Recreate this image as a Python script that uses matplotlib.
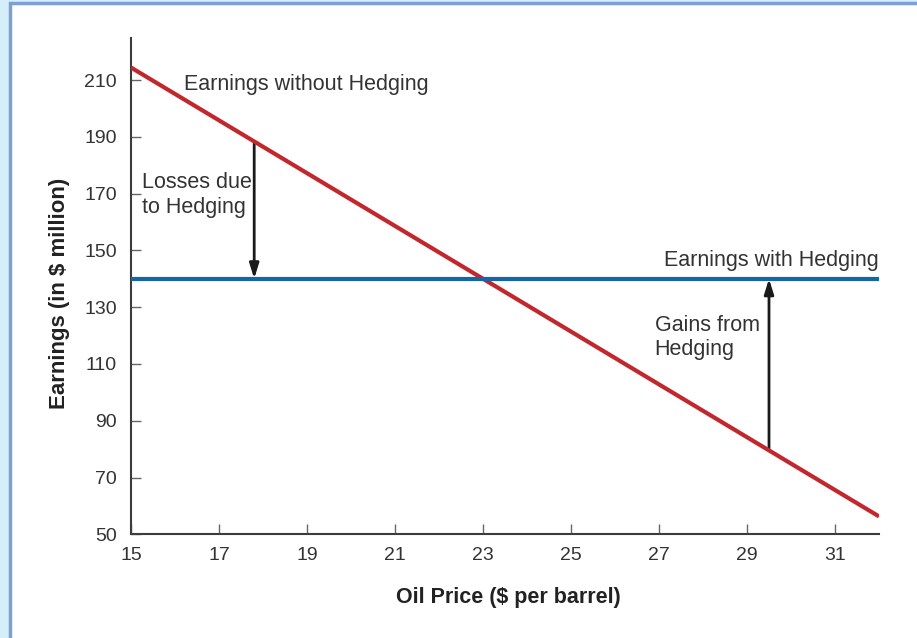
import matplotlib
matplotlib.use("Agg")
import matplotlib.pyplot as plt
from matplotlib.patches import Rectangle

# ---- data ----
oil_price = [15, 32]
earnings_unhedged = [214.4, 56.3]
hedged_level = 140
loss_arrow_price = 17.8
gain_arrow_price = 29.5
x_ticks = [15, 17, 19, 21, 23, 25, 27, 29, 31]
y_ticks = [50, 70, 90, 110, 130, 150, 170, 190, 210]

RED = "#c1272d"
BLUE = "#1565a7"
AXIS = "#3c3c3c"
TEXT = "#333333"

plt.rcParams["font.family"] = ["Liberation Sans", "DejaVu Sans"]

fig = plt.figure(figsize=(9.17, 6.38), dpi=100)
fig.patch.set_facecolor("#d4eefa")
# white inner panel with blue frame (right/bottom edges run off the image)
fig.patches.append(Rectangle((10 / 917, -0.1), 1.2, 1.1 - 4 / 638 + 0.002, transform=fig.transFigure,
                             facecolor="white", edgecolor="#7d9fd5", linewidth=2.5, zorder=-10))

ax = fig.add_axes([131 / 917, 1 - 534.3 / 638, (879 - 131) / 917, (534.3 - 38) / 638])
ax.set_zorder(5)
ax.set_facecolor("none")
ax.set_xlim(15, 32)
ax.set_ylim(50, 224.8)

def unhedged_at(p):
    (x0, x1), (y0, y1) = oil_price, earnings_unhedged
    return y0 + (y1 - y0) * (p - x0) / (x1 - x0)

ax.plot(oil_price, earnings_unhedged, color=RED, lw=3, solid_capstyle="butt", zorder=3)
ax.plot(oil_price, [hedged_level, hedged_level], color=BLUE, lw=3, solid_capstyle="butt", zorder=3)

arrow = dict(arrowstyle="-|>,head_length=0.9,head_width=0.28", color="#1a1a1a", lw=2, shrinkA=0, shrinkB=0)
ax.annotate("", xy=(loss_arrow_price, hedged_level), xytext=(loss_arrow_price, unhedged_at(loss_arrow_price)),
            arrowprops=arrow, zorder=2)
ax.annotate("", xy=(gain_arrow_price, hedged_level), xytext=(gain_arrow_price, unhedged_at(gain_arrow_price)),
            arrowprops=arrow, zorder=2)

ax.text(16.2, 208.5, "Earnings without Hedging", fontsize=15.5, color=TEXT, va="center", ha="left")
ax.text(32, 146.5, "Earnings with Hedging", fontsize=15.5, color=TEXT, va="center", ha="right")
ax.text(15.25, 169.5, "Losses due\nto Hedging", fontsize=15.5, color=TEXT, va="center", ha="left", linespacing=1.2)
ax.text(26.9, 119.3, "Gains from\nHedging", fontsize=15.5, color=TEXT, va="center", ha="left", linespacing=1.2)

for s in ["top", "right"]:
    ax.spines[s].set_visible(False)
for s in ["left", "bottom"]:
    ax.spines[s].set_color(AXIS)
    ax.spines[s].set_linewidth(1.5)

ax.set_xticks(x_ticks)
ax.set_yticks(y_ticks)
ax.tick_params(axis="both", direction="in", length=7, width=1, color="#666666", labelsize=14, labelcolor=TEXT)
ax.tick_params(axis="y", pad=10)
ax.tick_params(axis="x", pad=9)

fig.text(60 / 917, 1 - 293 / 638, "Earnings (in $ million)", rotation=90, fontsize=16, fontweight="bold",
         color="#222222", ha="center", va="center")
fig.text(508 / 917, 1 - 597 / 638, "Oil Price ($ per barrel)", fontsize=15.5, fontweight="bold",
         color="#222222", ha="center", va="center")

fig.savefig("out.png", dpi=100, facecolor=fig.get_facecolor())
